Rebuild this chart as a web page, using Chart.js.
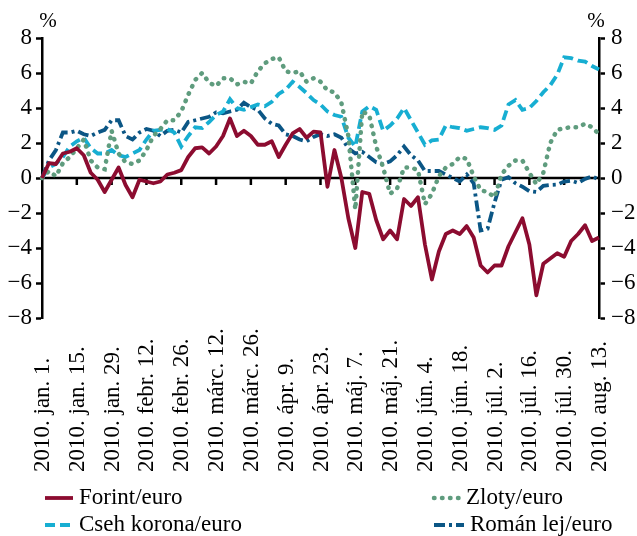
<!DOCTYPE html>
<html>
<head>
<meta charset="utf-8">
<script src="https://cdn.jsdelivr.net/npm/chart.js@4"></script>
<style>
  body { margin: 0; background: #fff; }
  canvas { display: block; }
</style>
</head>
<body>
<canvas id="arfolyam" width="637" height="536"></canvas>
<script>
// tengelyfeliratok: kéthetente (10 munkanaponként)
const tickLabels = ['2010. jan. 1.', '2010. jan. 15.', '2010. jan. 29.', '2010. febr. 12.', '2010. febr. 26.',
  '2010. márc. 12.', '2010. márc. 26.', '2010. ápr. 9.', '2010. ápr. 23.', '2010. máj. 7.', '2010. máj. 21.',
  '2010. jún. 4.', '2010. jún. 18.', '2010. júl. 2.', '2010. júl. 16.', '2010. júl. 30.', '2010. aug. 13.'];
const seriesNames = ['Forint/euro', 'Zloty/euro', 'Cseh korona/euro', 'Román lej/euro'];

// változás 2010. jan. 1-hez képest (%), minden 2. munkanap
const forint = [
  0, 0.85, 0.8, 1.4, 1.5, 1.7, 1.3, 0.3, -0.1, -0.8,
  -0.1, 0.6, -0.4, -1.1, -0.1, -0.2, -0.3, -0.2, 0.2, 0.3,
  0.45, 1.2, 1.7, 1.75, 1.4, 1.8, 2.4, 3.4, 2.4, 2.7,
  2.4, 1.9, 1.9, 2.1, 1.2, 1.9, 2.55, 2.8, 2.3, 2.65,
  2.6, -0.5, 1.6, 0.0, -2.3, -4.0, -0.8, -0.9, -2.4, -3.5,
  -3.0, -3.5, -1.2, -1.6, -1.1, -3.8, -5.8, -4.2, -3.2, -3.0,
  -3.2, -2.75, -3.4, -5.0, -5.4, -5.0, -5.0, -3.9, -3.1, -2.3,
  -3.8, -6.7, -4.9, -4.6, -4.3, -4.5, -3.6, -3.2, -2.7, -3.6,
  -3.4
];
const zloty = [
  0, 0.4, 0.1, 0.85, 1.2, 1.7, 2.2, 1.0, 0.6, 0.5,
  2.7, 1.4, 0.9, 0.8, 1.0, 1.6, 2.4, 2.8, 3.3, 3.3,
  3.8, 4.75, 5.6, 6.0, 5.45, 5.25, 5.7, 5.7, 5.35, 5.5,
  5.4, 6.1, 6.55, 6.8, 6.9, 6.1, 6.0, 6.1, 5.5, 5.7,
  5.5, 5.0, 4.9, 4.3, 2.4, -1.8, 3.8, 3.6, 1.8, 0.6,
  -0.9, -0.6, 0.6, 0.6, 0.45, -1.5, -0.9, 0.1, 0.6, 0.8,
  1.2, 1.1, 0.1, -0.7, -0.8, -1.1, 0.2, 0.7, 1.0, 1.0,
  0.3, -0.35, 0.3, 2.0, 2.75, 2.85, 2.9, 2.9, 3.1, 2.9,
  2.5
];
const cseh = [
  0, 0.6, 0.8, 1.2, 1.8, 2.1, 2.3, 1.7, 1.4, 1.4,
  1.6, 1.3, 1.2, 1.4, 1.6, 2.2, 2.7, 2.75, 2.8, 2.6,
  1.8, 2.4, 2.9, 2.85, 3.2, 3.6, 3.8, 4.5, 4.0, 3.9,
  4.05, 4.2, 4.1, 4.35, 4.8, 5.05, 5.5, 5.2, 4.85, 4.45,
  4.2, 3.8, 3.6, 3.5, 2.3, 1.8, 3.8, 4.1, 3.9, 2.7,
  3.0, 3.4, 4.0, 3.3, 2.6, 1.9, 2.15, 2.2, 3.0, 2.9,
  2.85, 2.7, 2.8, 2.9, 2.85, 2.75, 3.0, 4.2, 4.45, 3.9,
  4.0, 4.4, 4.9, 5.3, 5.9, 6.9, 6.85, 6.7, 6.65, 6.4,
  6.2
];
const roman = [
  0, 1.0, 1.6, 2.6, 2.6, 2.7, 2.5, 2.4, 2.6, 2.75,
  3.3, 3.3, 2.4, 2.2, 2.6, 2.8, 2.7, 2.4, 2.7, 2.75,
  2.6, 3.2, 3.3, 3.4, 3.5, 3.75, 3.7, 3.8, 3.9, 4.3,
  4.05, 3.9, 3.4, 3.1, 3.0, 2.5, 2.4, 2.2, 2.1, 2.35,
  2.5, 2.4, 2.5, 2.3, 1.7, 1.4, 1.5, 1.2, 0.9, 0.8,
  0.95, 1.3, 1.8, 1.3, 1.0, 0.4, 0.4, 0.4, 0.2, 0.0,
  -0.2, 0.2, -0.3, -3.0, -2.9, -1.4, -0.1, 0.05, -0.3, -0.5,
  -0.75, -0.8, -0.45, -0.4, -0.38, -0.2, -0.15, -0.28, -0.05, 0.1,
  -0.1
];

const FONT = '"Liberation Serif", "Times New Roman", serif';
const perLabel = 5; // 5 minta két hetente

const labels = forint.map((v, i) => i % perLabel === 0 ? tickLabels[i / perLabel] : '');

const fmt = v => v < 0 ? '\u2212' + Math.abs(v) : String(v);

const decor = {
  id: 'decor',
  beforeDatasetsDraw(chart) {
    const { ctx, chartArea, scales } = chart;
    const y0 = scales.y.getPixelForValue(0);
    ctx.save();
    ctx.strokeStyle = '#000';
    ctx.lineWidth = 2.5;
    ctx.beginPath();
    ctx.moveTo(chartArea.left, y0);
    ctx.lineTo(chartArea.right, y0);
    for (let i = 1; i < tickLabels.length - 1; i++) {
      const x = scales.x.getPixelForValue(i * perLabel);
      ctx.moveTo(x, y0);
      ctx.lineTo(x, y0 + 7);
    }
    ctx.stroke();
    ctx.restore();
  },
  afterDraw(chart) {
    const { ctx, chartArea, scales } = chart;
    ctx.save();
    ctx.fillStyle = '#000';

    // dátumok, alulról felfelé
    ctx.font = '23px ' + FONT;
    ctx.textAlign = 'left';
    ctx.textBaseline = 'middle';
    tickLabels.forEach((t, i) => {
      const x = scales.x.getPixelForValue(i * perLabel);
      ctx.save();
      ctx.translate(x + 1, 472);
      ctx.rotate(-Math.PI / 2);
      ctx.fillText(t, 0, 0);
      ctx.restore();
    });

    // % a tengelyek felett
    ctx.font = '21px ' + FONT;
    ctx.textAlign = 'center';
    ctx.fillText('%', chartArea.left + 6, 21);
    ctx.fillText('%', chartArea.right - 3, 21);

    // jelmagyarázat
    const slots = [[45, 498, 28], [434, 498, 26], [45, 525, 28], [434, 525, 30]];
    chart.data.datasets.forEach((ds, i) => {
      const [x, y, w] = slots[i];
      ctx.save();
      ctx.strokeStyle = ds.borderColor;
      ctx.lineWidth = ds.borderWidth;
      ctx.lineCap = ds.borderCapStyle || 'butt';
      ctx.setLineDash(ds.borderDash || []);
      ctx.beginPath();
      ctx.moveTo(x, y);
      ctx.lineTo(x + w, y);
      ctx.stroke();
      ctx.restore();
      ctx.font = '23px ' + FONT;
      ctx.textAlign = 'left';
      ctx.textBaseline = 'middle';
      ctx.fillText(ds.label, x + w + 6, y);
    });
    ctx.restore();
  }
};

const yAxis = (pos, width) => ({
  position: pos,
  min: -8,
  max: 8,
  afterFit(scale) { scale.width = width; },
  ticks: {
    stepSize: 2,
    color: '#000',
    padding: pos === 'left' ? 4 : 6,
    font: { family: FONT, size: 23 },
    callback: fmt
  },
  grid: {
    drawOnChartArea: false,
    tickLength: 6,
    tickColor: '#000',
    tickWidth: 2.5
  },
  border: { display: true, color: '#000', width: 2.5 }
});

new Chart(document.getElementById('arfolyam'), {
  type: 'line',
  data: {
    labels: labels,
    datasets: [
      {
        label: seriesNames[0],
        data: forint,
        borderColor: '#8c0c30',
        borderWidth: 3.8,
        borderJoinStyle: 'round'
      },
      {
        label: seriesNames[1],
        data: zloty,
        borderColor: '#5f9c7e',
        borderWidth: 4.5,
        borderCapStyle: 'round',
        borderDash: [0.5, 7.5]
      },
      {
        label: seriesNames[2],
        data: cseh,
        borderColor: '#17aed2',
        borderWidth: 3.8,
        borderDash: [10, 5]
      },
      {
        label: seriesNames[3],
        data: roman,
        borderColor: '#0b5685',
        borderWidth: 3.8,
        borderDash: [11, 4, 3, 4]
      }
    ]
  },
  options: {
    responsive: false,
    animation: false,
    devicePixelRatio: 1,
    layout: { padding: { top: 38, bottom: 218, left: 0, right: 0 } },
    elements: {
      point: { radius: 0 },
      line: { tension: 0, fill: false }
    },
    plugins: {
      legend: { display: false },
      tooltip: { enabled: false }
    },
    scales: {
      x: { display: false },
      y: yAxis('left', 42),
      y2: yAxis('right', 38)
    }
  },
  plugins: [decor]
});
</script>
</body>
</html>
